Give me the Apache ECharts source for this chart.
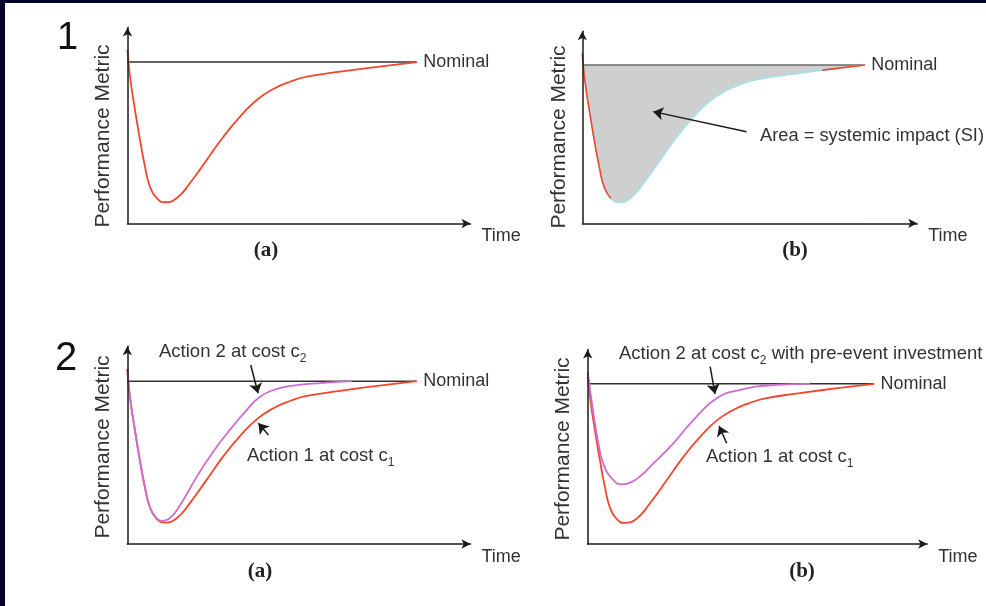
<!DOCTYPE html>
<html><head><meta charset="utf-8">
<script src="https://cdn.jsdelivr.net/npm/echarts@6/dist/echarts.min.js"></script>
<style>html,body{margin:0;padding:0;background:#fff}#c{width:986px;height:606px}</style>
</head><body><div id="c"></div>
<script>
// ---- data (abstract units: time 0..100, performance metric 0..100) ----
const timeRed   = [0, 0.72, 2.16, 3.6, 5.04, 6.47, 8.4, 10.8, 14.2, 18.0, 22.8, 27.6, 32.4, 37.2, 42.0, 46.8, 51.6, 61.2, 70.7, 83.3];
const metricRed = [86.5, 73.2, 56.6, 41.6, 28.3, 18.3, 12.6, 10.6, 12.7, 20.2, 31.7, 43.3, 53.3, 61.6, 67.1, 70.7, 73.2, 75.7, 77.9, 80.5];
const timeAct2a   = [0, 0.72, 2.16, 3.6, 5.04, 6.47, 8.0, 9.9, 11.8, 15.2, 20.0, 24.7, 29.5, 34.3, 38.2, 42.0, 47.7, 54.5, 64.5];
const metricAct2a = [86.5, 73.2, 56.6, 41.6, 28.3, 18.3, 13.5, 11.4, 12.2, 19.3, 33.3, 45.6, 56.4, 66.2, 72.8, 76.1, 78.3, 79.4, 80.5];
const timeAct2b   = [0, 1.64, 3.1, 4.5, 7.0, 9.9, 12.6, 15.5, 18.5, 24.9, 30.7, 37.5, 44.3, 54.0, 64.6];
const metricAct2b = [86.5, 65.7, 50.6, 40.6, 33.0, 30.0, 31.0, 34.4, 39.5, 50.6, 62.3, 73.2, 77.4, 79.9, 80.5];
const nominalTime = [0, 83.1];
const nominalLevel = 80.5;
// annotation arrows (tail -> head) in data units
const siArrow    = [[48.4, 46.6], [20.9, 56.8]];
const act2ArrowA = [[35.5, 88.5], [37.6, 74.5]];
const act1ArrowA = [[40.6, 53.9], [37.7, 59.7]];
const act2ArrowB = [[35.6, 89.1], [37.0, 75.4]];
const act1ArrowB = [[40.4, 50.6], [38.2, 59.3]];

// ---- layout ----
const SANS = 'Liberation Sans, Arial, Helvetica, sans-serif';
const SERIF = 'Liberation Serif, Times New Roman, serif';
const RED = '#f0472e', PURPLE = '#cf6ccf';
const panels = [
  {ox:127.5, oy:223.5, tipX:475,   tipY:23},
  {ox:582.3, oy:223.3, tipX:921.7, tipY:26.7},
  {ox:127.3, oy:544,   tipX:475,   tipY:341.7},
  {ox:587.7, oy:544,   tipX:931.7, tipY:345}
];
const A = 4.5;
const zip = (xs, ys) => xs.map((x, i) => [x, ys[i]]);
const axisLine = {show:true, onZero:false, symbol:['none','arrow'], symbolSize:[7,9], lineStyle:{color:'#1a1a1a', width:1.5}};

const grid = panels.map(p => ({left:p.ox, top:p.tipY + A, width:p.tipX - A - p.ox, height:p.oy - p.tipY - A}));
const xAxis = panels.map((p, i) => ({
  type:'value', gridIndex:i, min:0, max:100 * (p.tipX - A - p.ox) / (p.tipX - p.ox), z:10,
  axisLine, axisTick:{show:false}, axisLabel:{show:false}, splitLine:{show:false},
  name:'Time', nameLocation:'end', nameGap:11,
  nameTextStyle:{fontFamily:SANS, fontSize:18, color:'#333', verticalAlign:'top', padding:[4,0,0,0]}
}));
const yAxis = panels.map((p, i) => ({
  type:'value', gridIndex:i, min:0, max:100 * (p.oy - p.tipY - A) / (p.oy - p.tipY), z:10,
  axisLine, axisTick:{show:false}, axisLabel:{show:false}, splitLine:{show:false}
}));

function line(i, data, color, width, extra) {
  return Object.assign({type:'line', xAxisIndex:i, yAxisIndex:i, data, symbol:'none', smooth:0.5,
    silent:true, lineStyle:{color, width}}, extra || {});
}
function nominal(i, color, extra) {
  return line(i, nominalTime.map(t => [t, nominalLevel]), color, 1.5, Object.assign({smooth:false, z:3,
    endLabel:{show:true, formatter:'Nominal', distance:7, fontFamily:SANS, fontSize:18, color:'#333'}}, extra || {}));
}
function arrow(i, seg) {
  return {type:'lines', coordinateSystem:'cartesian2d', xAxisIndex:i, yAxisIndex:i, silent:true,
    data:[{coords:seg}], symbol:['none','arrow'], symbolSize:[7,10], z:6,
    lineStyle:{color:'#1a1a1a', width:1.5, opacity:1}};
}

const redData = zip(timeRed, metricRed);
const nMin = metricRed.indexOf(Math.min(...metricRed));

const series = [
  // panel 1(a)
  nominal(0, '#333'),
  line(0, redData, RED, 1.8, {z:4}),
  // panel 1(b): systemic impact area = region between nominal and the curve
  nominal(1, '#6a6a6a', {areaStyle:{color:'#cdd0cf', opacity:1}, z:1}),
  line(1, redData, '#a6e0e9', 1.6, {areaStyle:{color:'#ffffff', opacity:1}, z:2}),
  line(1, redData.slice(0, nMin), RED, 1.6, {z:4}),
  line(1, redData.slice(-2), RED, 1.6, {z:4, smooth:false}),
  arrow(1, siArrow),
  // panel 2(a)
  nominal(2, '#333'),
  line(2, redData, RED, 1.8, {z:4}),
  line(2, zip(timeAct2a, metricAct2a), PURPLE, 1.8, {z:5}),
  arrow(2, act2ArrowA), arrow(2, act1ArrowA),
  // panel 2(b)
  nominal(3, '#333'),
  line(3, redData, RED, 1.8, {z:4}),
  line(3, zip(timeAct2b, metricAct2b), PURPLE, 1.8, {z:5}),
  arrow(3, act2ArrowB), arrow(3, act1ArrowB)
];

function txt(x, y, text, opt) {
  return Object.assign({type:'text', x, y, silent:true, z:10,
    style:Object.assign({text, fontFamily:SANS, fontSize:18.5, fill:'#333', align:'left', verticalAlign:'middle'}, (opt && opt.style) || {})},
    opt && opt.rotation !== undefined ? {rotation:opt.rotation} : {});
}
const rich = {s:{fontFamily:SANS, fontSize:12, fill:'#333', verticalAlign:'bottom', lineHeight:12, padding:[0,0,-3,0]},
              m:{fontFamily:SANS, fontSize:18.5, fill:'#333'}};
function pm(x, y) { return txt(x, y, 'Performance Metric', {rotation:Math.PI/2, style:{fontSize:21, align:'center', fill:'#333'}}); }
function tag(x, y, t) { return txt(x, y, t, {style:{fontFamily:SERIF, fontWeight:'bold', fontSize:21, align:'center', fill:'#222'}}); }

const graphic = [
  {type:'rect', shape:{x:0, y:0, width:986, height:3}, style:{fill:'#03032e'}, silent:true, z:20},
  {type:'rect', shape:{x:0, y:0, width:5, height:606}, style:{fill:'#03032e'}, silent:true, z:20},
  txt(57, 39, '1', {style:{fontSize:38, fill:'#111'}}),
  txt(55, 359, '2', {style:{fontSize:40, fill:'#111'}}),
  pm(103, 136), pm(559, 137), pm(103, 447), pm(563, 449),
  tag(266, 251, '(a)'), tag(795, 251, '(b)'), tag(260, 572, '(a)'), tag(802, 572, '(b)'),
  txt(760, 136, 'Area = systemic impact (SI)', {style:{fontSize:18.3}}),
  txt(159, 352, '{m|Action 2 at cost c}{s|2}', {style:{rich}}),
  txt(247, 456, '{m|Action 1 at cost c}{s|1}', {style:{rich}}),
  txt(619, 354, '{m|Action 2 at cost c}{s|2}{m| with pre-event investment}', {style:{rich}}),
  txt(706, 457, '{m|Action 1 at cost c}{s|1}', {style:{rich}})
];

const chart = echarts.init(document.getElementById('c'), null, {renderer:'canvas'});
chart.setOption({backgroundColor:'#fff', animation:false, grid, xAxis, yAxis, series, graphic});
</script></body></html>
